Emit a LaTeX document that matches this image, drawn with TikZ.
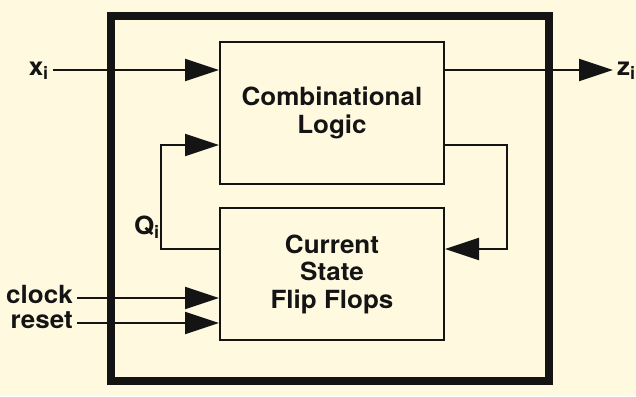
\documentclass[tikz,border=0pt]{standalone}
\usepackage{fontspec}
\setmainfont{TeX Gyre Heros}[FakeStretch=1.04]
\usetikzlibrary{arrows.meta}
\definecolor{paper}{HTML}{FFFADF}
\definecolor{ink}{HTML}{141414}
\begin{document}
\begin{tikzpicture}[x=1pt,y=-1pt,
        txt/.style={font=\bfseries\fontsize{25}{27.5}\selectfont,text=ink},
        block/.style={txt,draw=ink,line width=2pt,minimum width=224pt,align=center},
        lab/.style={txt,text height=10pt,text depth=0pt,inner xsep=4pt,inner ysep=0pt},
        flow/.style={draw=ink,line width=2pt,-{Triangle[length=34pt,width=22pt]}}]
    \useasboundingbox (0,0) rectangle (636,396);
    \fill[paper] (0,0) rectangle (636,396);
    % outer box
    \node[draw=ink,line width=8pt,minimum width=438pt,minimum height=365pt] (chip) at (330,198.5) {};
    % the two blocks
    \node[block,minimum height=142pt] (comb) at (332,113) {Combinational\\Logic};
    \node[block,minimum height=132pt] (ff) at (332,274) {Current\\State\\Flip Flops};
    % inputs and output
    \node[lab,anchor=east] (xlab) at (53,70) {x\textsubscript{i}};
    \node[lab,anchor=west] (zlab) at (613,70) {z\textsubscript{i}};
    \node[lab,anchor=east] (clab) at (77,298) {clock};
    \node[lab,anchor=east] (rlab) at (77,323) {reset};
    \draw[flow] (xlab) -- (xlab -| comb.west);
    \draw[flow] (comb.east |- zlab) -- (zlab);
    \draw[flow] (clab) -- (clab -| ff.west);
    \draw[flow] (rlab) -- (rlab -| ff.west);
    % state feedback
    \draw[flow] ([yshift=25pt]ff.west) -- ++(-58,0) |- ([yshift=-32pt]comb.west);
    \draw[flow] ([yshift=-32pt]comb.east) -- ++(62,0) |- ([yshift=25pt]ff.east);
    \node[txt,anchor=base east,inner sep=0pt] (qlab) at (160,234) {Q\textsubscript{i}};
\end{tikzpicture}
\end{document}
